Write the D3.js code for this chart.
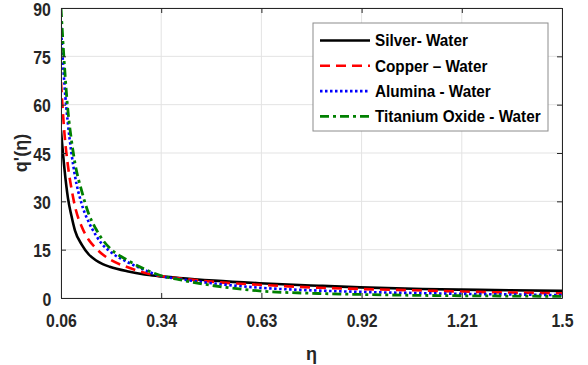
<!DOCTYPE html>
<html lang="en">
<head>
    <meta charset="UTF-8">
    <title>q'(eta) profiles</title>
    <script src="https://d3js.org/d3.v7.min.js"></script>
    <style>
        body { margin: 0; background: #fff; }
        svg { display: block; font-family: "Liberation Sans", Arial, sans-serif; font-weight: bold; }
        .grid line { stroke: #e3e3e3; stroke-width: 1; }
        .axis text { fill: #262626; font-size: 18px; font-weight: bold; }
        .narrow { transform-box: fill-box; transform-origin: center; transform: scaleX(0.88); }
    </style>
</head>
<body>
    <script>
        // sampled eta positions and q'(eta) readings for each nanofluid
        const eta = [0.06, 0.07, 0.08, 0.09, 0.10, 0.12, 0.14, 0.16, 0.18, 0.20, 0.25, 0.30, 0.34, 0.40, 0.50, 0.63, 0.80, 0.92, 1.10, 1.21, 1.35, 1.5];
        const silver   = [52, 40, 31, 25.5, 21, 16.5, 13.5, 11.7, 10.5, 9.7, 8.3, 7.3, 6.8, 6.2, 5.4, 4.6, 3.8, 3.3, 2.8, 2.6, 2.4, 2.2];
        const copper   = [67, 51, 41, 34, 28.5, 22, 18, 15.5, 13.5, 12, 9.6, 7.8, 6.9, 6.1, 5.0, 4.1, 3.2, 2.8, 2.3, 2.0, 1.7, 1.45];
        const alumina  = [84, 66, 54, 45, 38, 29, 23.5, 19.5, 16.5, 14.5, 11.2, 8.7, 7.0, 5.9, 4.5, 3.2, 2.3, 1.9, 1.5, 1.3, 1.1, 0.9];
        const titanium = [90, 72, 58, 49, 42, 33, 26, 21.5, 18, 15.5, 11.8, 9.0, 7.2, 5.7, 3.8, 2.2, 1.4, 1.1, 0.8, 0.7, 0.6, 0.5];

        const seriesNames = ["Silver- Water", "Copper \u2013 Water", "Alumina - Water", "Titanium Oxide - Water"];
        const xTicks = [0.06, 0.348, 0.636, 0.924, 1.212, 1.5];
        const xTickLabels = ["0.06", "0.34", "0.63", "0.92", "1.21", "1.5"];
        const yTicks = [0, 15, 30, 45, 60, 75, 90];

        const styles = [
            { color: "#000000", dash: null, width: 2.6 },
            { color: "#ff0000", dash: "10,6", width: 2.6 },
            { color: "#0000ff", dash: "2.5,2.5", width: 2.6 },
            { color: "#008000", dash: "9,4,3,4", width: 2.8 }
        ];

        const width = 588, height = 365;
        const margin = { top: 8, right: 26, bottom: 67, left: 61 };
        const plotW = width - margin.left - margin.right;
        const plotH = height - margin.top - margin.bottom;

        const svg = d3.select("body").append("svg")
            .attr("width", width)
            .attr("height", height);

        const g = svg.append("g").attr("transform", `translate(${margin.left},${margin.top})`);

        const x = d3.scaleLinear().domain([0.06, 1.5]).range([0, plotW]);
        const y = d3.scaleLinear().domain([0, 90]).range([plotH, 0]);

        // grid
        const grid = g.append("g").attr("class", "grid");
        grid.selectAll(".gx").data(xTicks).enter().append("line")
            .attr("x1", d => x(d)).attr("x2", d => x(d))
            .attr("y1", 0).attr("y2", plotH);
        grid.selectAll(".gy").data(yTicks).enter().append("line")
            .attr("x1", 0).attr("x2", plotW)
            .attr("y1", d => y(d)).attr("y2", d => y(d));

        // curves
        g.append("clipPath").attr("id", "clip")
            .append("rect").attr("width", plotW).attr("height", plotH);

        const line = d3.line()
            .x(d => x(d[0]))
            .y(d => y(d[1]))
            .curve(d3.curveMonotoneX);

        const allSeries = [silver, copper, alumina, titanium];
        const curves = g.append("g").attr("clip-path", "url(#clip)");
        allSeries.forEach((vals, i) => {
            curves.append("path")
                .datum(eta.map((e, j) => [e, vals[j]]))
                .attr("d", line)
                .attr("fill", "none")
                .attr("stroke", styles[i].color)
                .attr("stroke-width", styles[i].width)
                .attr("stroke-dasharray", styles[i].dash);
        });

        // axes (ticks inside, box around plot)
        const xAxis = d3.axisBottom(x).tickValues(xTicks)
            .tickFormat((d, i) => xTickLabels[i]).tickSizeInner(-5).tickSizeOuter(0).tickPadding(16);
        const yAxis = d3.axisLeft(y).tickValues(yTicks).tickSizeInner(-5).tickSizeOuter(0).tickPadding(9);

        g.append("g").attr("class", "axis").attr("transform", `translate(0,${plotH})`).call(xAxis);
        g.append("g").attr("class", "axis y").call(yAxis);
        g.append("g")
            .call(d3.axisTop(x).tickValues(xTicks).tickFormat("").tickSizeInner(-5).tickSizeOuter(0));
        g.append("g").attr("transform", `translate(${plotW},0)`)
            .call(d3.axisRight(y).tickValues(yTicks).tickFormat("").tickSizeInner(-5).tickSizeOuter(0));
        g.selectAll(".domain, .tick line").attr("stroke", "#262626").attr("stroke-width", 1);
        g.selectAll(".axis .tick text").classed("narrow", true);
        g.selectAll(".axis.y .tick text").attr("dy", "0.4em");

        // axis labels
        g.append("text")
            .attr("x", plotW / 2).attr("y", plotH + 62)
            .attr("text-anchor", "middle")
            .style("font-size", "18px").attr("fill", "#262626")
            .text("\u03b7");
        g.append("text")
            .attr("transform", `translate(${21 - margin.left},${plotH / 2}) rotate(-90)`)
            .attr("text-anchor", "middle").attr("dy", "0.35em")
            .style("font-size", "18px").attr("fill", "#262626")
            .text("q'(\u03b7)");

        // legend
        const legend = svg.append("g").attr("transform", "translate(313,23)");
        legend.append("rect")
            .attr("width", 235).attr("height", 108)
            .attr("fill", "#fff").attr("stroke", "#8c8c8c").attr("stroke-width", 1);
        seriesNames.forEach((name, i) => {
            const ly = 17.5 + i * 25.3;
            legend.append("line")
                .attr("x1", 7).attr("x2", 57).attr("y1", ly).attr("y2", ly)
                .attr("stroke", styles[i].color)
                .attr("stroke-width", styles[i].width)
                .attr("stroke-dasharray", styles[i].dash);
            // squeeze to the narrow look of the original while keeping the left edge
            legend.append("text")
                .attr("x", 62).attr("y", ly).attr("dy", "0.35em")
                .attr("transform", "translate(62,0) scale(0.9,1) translate(-62,0)")
                .style("font-size", "17px").attr("fill", "#000")
                .text(name);
        });
    </script>
</body>
</html>
